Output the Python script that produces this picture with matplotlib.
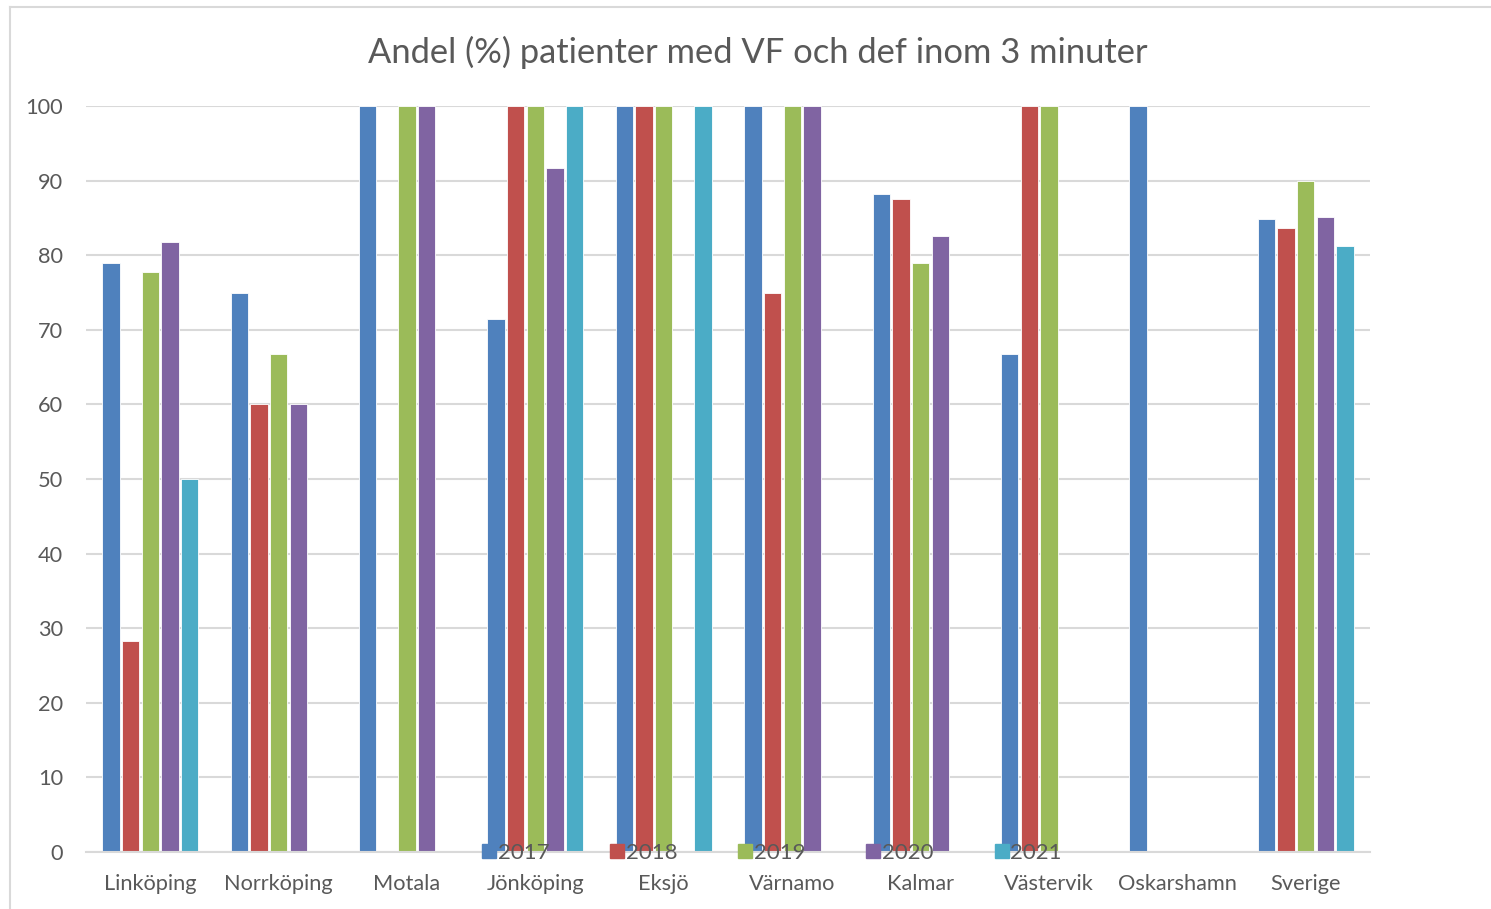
import matplotlib
matplotlib.use("Agg")
import matplotlib.pyplot as plt
import numpy as np
from matplotlib.lines import Line2D

plt.rcParams['font.family'] = ['Lato', 'DejaVu Sans']

categories = ["Linköping", "Norrköping", "Motala", "Jönköping", "Eksjö",
              "Värnamo", "Kalmar", "Västervik", "Oskarshamn", "Sverige"]
years = ["2017", "2018", "2019", "2020", "2021"]
nan = np.nan
v2017 = [78.9, 75.0, 100, 71.4, 100, 100, 88.2, 66.7, 100, 84.9]
v2018 = [28.3, 60.0, nan, 100, 100, 75.0, 87.5, 100, nan, 83.6]
v2019 = [77.8, 66.7, 100, 100, 100, 100, 78.9, 100, nan, 90.0]
v2020 = [81.8, 60.0, 100, 91.7, nan, 100, 82.6, nan, nan, 85.1]
v2021 = [50.0, nan, nan, 100, 100, nan, nan, nan, nan, 81.2]
series = [v2017, v2018, v2019, v2020, v2021]
colors = ["#4F81BD", "#C0504D", "#9BBB59", "#8064A2", "#4BACC6"]

W, H = 1491, 909
fig = plt.figure(figsize=(W / 100, H / 100), dpi=100)
ax = fig.add_axes([86 / W, 1 - 852 / H, (1370 - 86) / W, (852 - 106) / H])

x = np.arange(len(categories))
step = 0.153
bw = 0.135
for i, (vals, c, yr) in enumerate(zip(series, colors, years)):
    ax.bar(x + (i - 2) * step, vals, width=bw, color=c, label=yr,
           edgecolor="white", linewidth=0.6, zorder=3)

ax.set_xlim(-0.5, len(categories) - 0.5)
ax.set_ylim(0, 100)
ax.set_yticks(range(0, 101, 10))
ax.set_xticks(x)
ax.set_xticklabels(categories)
ax.tick_params(axis='both', length=0, labelsize=15.7, labelcolor="#595959")
ax.tick_params(axis='x', pad=16)
ax.tick_params(axis='y', pad=16.5)
ax.grid(axis='y', color="#d9d9d9", linewidth=1.5, zorder=0)
for s in ["top", "right", "left"]:
    ax.spines[s].set_visible(False)
ax.spines["bottom"].set_color("#d9d9d9")
ax.spines["bottom"].set_linewidth(1.5)
ax.spines["bottom"].set_zorder(4)

fig.text(758 / W, 1 - 52 / H, "Andel (%) patienter med VF och def inom 3 minuter",
         ha="center", va="center", fontsize=24.8, color="#595959")

handles = [Line2D([0], [0], marker='s', linestyle='none', markersize=10.5,
                  markerfacecolor=c, markeredgecolor=c) for c in colors]
leg = fig.legend(handles, years, loc="center", bbox_to_anchor=(772 / W, 1 - 853 / H),
                 ncol=5, frameon=False, fontsize=16, handlelength=0.6,
                 handletextpad=0.1, columnspacing=2.75, labelcolor="#595959")
leg.set_zorder(10)

# chart border (left and top visible)
fig.add_artist(Line2D([10 / W, 10 / W], [0, 1 - 7 / H], color="#d9d9d9", linewidth=1.5,
                      transform=fig.transFigure))
fig.add_artist(Line2D([10 / W, 1], [1 - 7 / H, 1 - 7 / H], color="#d9d9d9", linewidth=1.5,
                      transform=fig.transFigure))

fig.savefig("out.png", dpi=100, facecolor="white")
